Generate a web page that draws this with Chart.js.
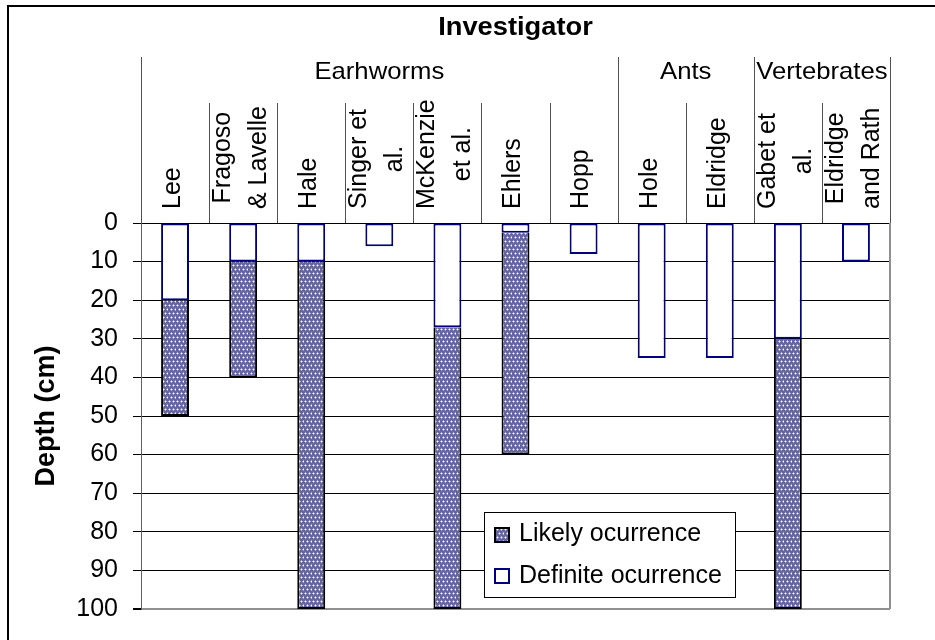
<!DOCTYPE html>
<html><head><meta charset="utf-8">
<script src="https://cdn.jsdelivr.net/npm/chart.js@4.4.1/dist/chart.umd.min.js"></script>
<style>html,body{margin:0;padding:0;background:#fff}canvas{display:block}</style>
</head><body>
<canvas id="c" width="935" height="640"></canvas>
<script>
// ---- data ----
const investigators = [['Lee'],['Fragoso','& Lavelle'],['Hale'],['Singer et','al.'],['McKenzie','et al.'],['Ehlers'],['Hopp'],['Hole'],['Eldridge'],['Gabet et','al.'],['Eldridge','and Rath']];
const groupNames = ['Earhworms','Ants','Vertebrates'];
const groupSizes = [7,2,2];
const definiteDepth = [20,10,10,6,27,2.5,8,35,35,30,10];        // depth 0 -> value
const likelyExtent  = [30,30,90,null,73,57.5,null,null,null,70,null]; // stacked below definite
const depthTicks = [0,10,20,30,40,50,60,70,80,90,100];
const seriesNames = ['Likely ocurrence','Definite ocurrence'];
const headerTitle = 'Investigator';
const axisTitle = 'Depth (cm)';

const FONT = "'Liberation Sans', Arial, sans-serif";
const canvas = document.getElementById('c');
const mainCtx = canvas.getContext('2d');

function makePattern(){
  const t = document.createElement('canvas'); t.width = 8; t.height = 8;
  const g = t.getContext('2d');
  g.fillStyle = '#65659f'; g.fillRect(0,0,8,8);
  [[1,1],[5,1],[3,5],[7,5]].forEach(p => {
    g.fillStyle = '#a9a9cf'; g.fillRect(p[0]-1,p[1],3,1); g.fillRect(p[0],p[1]-1,1,3);
    g.fillStyle = '#ffffff'; g.fillRect(p[0],p[1],1,1);
  });
  return mainCtx.createPattern(t,'repeat');
}
const dotted = makePattern();

function stretchText(ctx, text, x, y, font, sx, align){
  ctx.save();
  ctx.font = font; ctx.fillStyle = '#000';
  ctx.textAlign = align || 'center'; ctx.textBaseline = 'middle';
  ctx.translate(x, y); ctx.scale(sx, 1);
  ctx.fillText(text, 0, 0);
  ctx.restore();
}

const decor = {
  id: 'decor',
  beforeDraw(chart){
    const ctx = chart.ctx;
    ctx.save(); ctx.fillStyle = '#fff'; ctx.fillRect(0,0,chart.width,chart.height); ctx.restore();
  },
  afterDatasetsDraw(chart){
    const ctx = chart.ctx, a = chart.chartArea;
    // plot right border
    ctx.save();
    ctx.strokeStyle = '#909090'; ctx.lineWidth = 2;
    ctx.beginPath(); ctx.moveTo(a.right, a.top); ctx.lineTo(a.right, a.bottom); ctx.stroke();
    ctx.restore();
    // legend box
    const lx = a.left + 343, ly = a.top + 289, lw = 251, lh = 85;
    ctx.save();
    ctx.fillStyle = '#fff'; ctx.fillRect(lx, ly, lw, lh);
    ctx.strokeStyle = '#000'; ctx.lineWidth = 1; ctx.strokeRect(lx+0.5, ly+0.5, lw, lh);
    ctx.fillStyle = dotted; ctx.fillRect(lx+10, ly+15, 16, 16);
    ctx.strokeStyle = '#000'; ctx.lineWidth = 2; ctx.strokeRect(lx+11, ly+16, 14, 14);
    ctx.fillStyle = '#fff'; ctx.fillRect(lx+10, ly+56, 16, 16);
    ctx.strokeStyle = '#000080'; ctx.lineWidth = 2; ctx.strokeRect(lx+11, ly+57, 14, 14);
    ctx.restore();
    stretchText(ctx, seriesNames[0], lx+35, ly+22, '25px '+FONT, 1, 'left');
    stretchText(ctx, seriesNames[1], lx+35, ly+64, '25px '+FONT, 1, 'left');
  },
  afterDraw(chart){
    const ctx = chart.ctx, a = chart.chartArea, xs = chart.scales.x;
    ctx.save();
    ctx.strokeStyle = '#000'; ctx.lineWidth = 2;
    ctx.beginPath(); ctx.moveTo(8, chart.height + 10); ctx.lineTo(8, 6); ctx.lineTo(chart.width + 10, 6); ctx.stroke();
    ctx.restore();
    stretchText(ctx, headerTitle, (a.left + a.right)/2, 28, 'bold 26px '+FONT, 1.05);
    const n = investigators.length;
    const centers = investigators.map((_, i) => xs.getPixelForValue(i));
    const half = (centers[1] - centers[0]) / 2;
    const edges = [];
    for (let i = 0; i <= n; i++) edges.push(i === 0 ? centers[0] - half : centers[i-1] + half);
    const groupEdges = [0]; groupSizes.reduce((s, k) => { groupEdges.push(s + k); return s + k; }, 0);
    ctx.save();
    ctx.strokeStyle = '#505050'; ctx.lineWidth = 1;
    for (let i = 0; i <= n; i++) {
      const x = Math.round(edges[i]) + 0.5;
      const yTop = groupEdges.includes(i) ? 57 : 103;
      ctx.beginPath(); ctx.moveTo(x, yTop); ctx.lineTo(x, a.top); ctx.stroke();
    }
    ctx.restore();
    for (let g = 0; g < groupNames.length; g++) {
      const x0 = edges[groupEdges[g]], x1 = edges[groupEdges[g+1]];
      stretchText(ctx, groupNames[g], (x0 + x1)/2, 72, '24px '+FONT, 1.07);
    }
    ctx.save();
    ctx.font = '25px ' + FONT; ctx.fillStyle = '#000';
    ctx.textAlign = 'center'; ctx.textBaseline = 'middle';
    const lineH = 36, baseY = 209;
    investigators.forEach((lines, i) => {
      const maxW = Math.max(...lines.map(l => ctx.measureText(l).width));
      ctx.save();
      ctx.translate(centers[i] - 2, baseY - maxW/2);
      ctx.rotate(-Math.PI/2);
      lines.forEach((l, j) => ctx.fillText(l, 0, (j - (lines.length-1)/2) * lineH));
      ctx.restore();
    });
    ctx.restore();
  }
};

new Chart(canvas, {
  type: 'bar',
  data: {
    labels: investigators.map(l => l.join(' ')),
    datasets: [
      { label: seriesNames[1], data: definiteDepth, backgroundColor: '#fff', borderColor: '#000080', borderWidth: 2, borderSkipped: false },
      { label: seriesNames[0], data: likelyExtent, backgroundColor: dotted, borderColor: '#000', borderWidth: 2, borderSkipped: 'start' }
    ]
  },
  options: {
    responsive: false, animation: false, devicePixelRatio: 1,
    layout: { padding: { top: 223, right: 45, bottom: 31, left: 0 } },
    datasets: { bar: { categoryPercentage: 1, barPercentage: 0.41 } },
    plugins: { legend: { display: false }, tooltip: { enabled: false } },
    scales: {
      x: { type: 'category', stacked: true, display: false, grid: { display: false } },
      y: {
        type: 'linear', stacked: true, reverse: true, min: 0, max: 100,
        afterFit(s){ s.width = 141; },
        afterBuildTicks(s){ s.ticks = depthTicks.map(v => ({ value: v })); },
        ticks: { color: '#000', font: { family: FONT, size: 25 }, padding: 15 },
        grid: {
          color: c => (c.tick && c.tick.value === 100) ? '#909090' : '#000',
          lineWidth: c => (c.tick && c.tick.value === 100) ? 2 : 1,
          tickLength: 8, tickColor: '#000'
        },
        border: { color: '#606060', width: 1 },
        title: { display: true, text: axisTitle, color: '#000', font: { family: FONT, size: 27, weight: 'bold' }, padding: { top: 30, bottom: 0 } }
      }
    }
  },
  plugins: [decor]
});
</script>
</body></html>
